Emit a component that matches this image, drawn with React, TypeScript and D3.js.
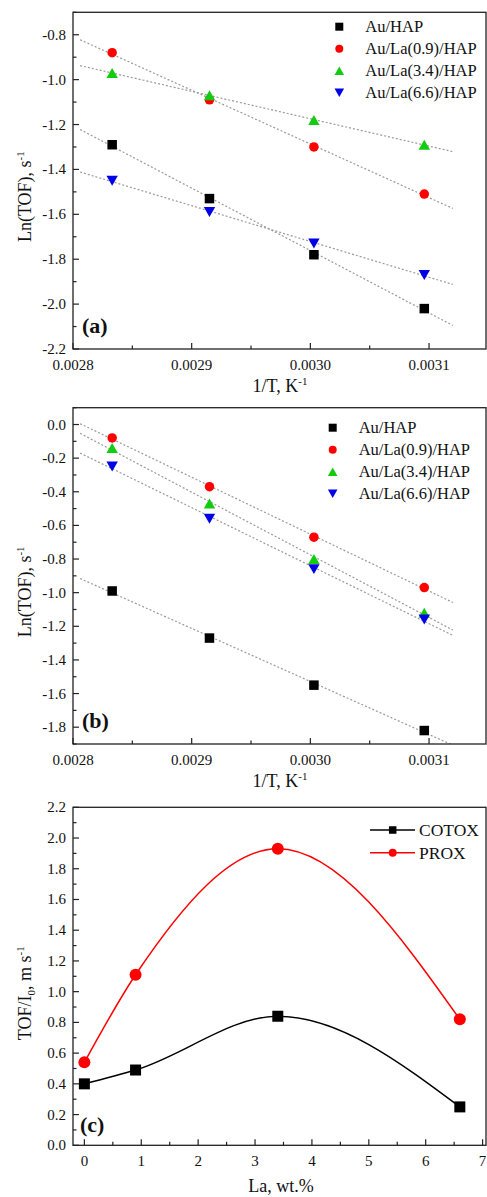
import React from 'react';
import * as d3 from 'd3';

// ---------- DATA ----------
const invT = [0.002833, 0.002915, 0.003003, 0.003096];
const seriesNames = ['Au/HAP', 'Au/La(0.9)/HAP', 'Au/La(3.4)/HAP', 'Au/La(6.6)/HAP'];
const seriesColors = ['#000000', '#ff0000', '#11cc11', '#0000e6'];
const seriesShapes = ['square', 'circle', 'triUp', 'triDown'];
const lnTofA = [
  [-1.29, -1.53, -1.78, -2.02],
  [-0.88, -1.09, -1.3, -1.51],
  [-0.97, -1.07, -1.18, -1.29],
  [-1.45, -1.59, -1.73, -1.87],
];
const lnTofB = [
  [-0.99, -1.27, -1.55, -1.82],
  [-0.08, -0.37, -0.67, -0.97],
  [-0.14, -0.47, -0.8, -1.12],
  [-0.25, -0.56, -0.86, -1.16],
];
const xTicksT = [0.0028, 0.0029, 0.003, 0.0031];
const xTickLabelsT = ['0.0028', '0.0029', '0.0030', '0.0031'];
const xMinorT = [0.00285, 0.00295, 0.00305];
const yTicksA = [-2.2, -2.0, -1.8, -1.6, -1.4, -1.2, -1.0, -0.8];
const yTicksB = [-1.8, -1.6, -1.4, -1.2, -1.0, -0.8, -0.6, -0.4, -0.2, 0.0];
const laContent = [0, 0.9, 3.4, 6.6];
const cotox = [0.4, 0.49, 0.84, 0.25];
const prox = [0.54, 1.11, 1.93, 0.82];
const cNames = ['COTOX', 'PROX'];
const cColors = ['#000000', '#ff0000'];
const xTicksC = [0, 1, 2, 3, 4, 5, 6, 7];
const xMinorC = [0.5, 1.5, 2.5, 3.5, 4.5, 5.5, 6.5];
const yTicksC = [0, 0.2, 0.4, 0.6, 0.8, 1.0, 1.2, 1.4, 1.6, 1.8, 2.0, 2.2];

const FONT = '"Liberation Serif", "Times New Roman", serif';
const AXIS = '#222';
const L = 73;
const R = 486;

function Marker({ shape, x, y, s, color }: any) {
  if (shape === 'square') return <rect x={x - s / 2} y={y - s / 2} width={s} height={s} fill={color} />;
  if (shape === 'circle') return <circle cx={x} cy={y} r={s / 2} fill={color} />;
  const a = s * 1.2;
  const h = s * 1.05;
  if (shape === 'triUp')
    return <polygon points={`${x},${y - h / 2} ${x - a / 2},${y + h / 2} ${x + a / 2},${y + h / 2}`} fill={color} />;
  return <polygon points={`${x},${y + h / 2} ${x - a / 2},${y - h / 2} ${x + a / 2},${y - h / 2}`} fill={color} />;
}

function Frame({ x, y, top, bottom, xTicks, xLabels, xMinor, yTicks, yLabels, yMinor }: any) {
  return (
    <g>
      <rect x={L} y={top} width={R - L} height={bottom - top} fill="none" stroke={AXIS} strokeWidth={1.3} />
      {xTicks.map((t: number, i: number) => (
        <g key={'xt' + i}>
          <line x1={x(t)} x2={x(t)} y1={bottom} y2={bottom - 6} stroke={AXIS} strokeWidth={1.2} />
          <text x={x(t)} y={bottom + 21} textAnchor="middle" fontSize={15} fontFamily={FONT} fill="#111">
            {xLabels[i]}
          </text>
        </g>
      ))}
      {xMinor.map((t: number, i: number) => (
        <line key={'xm' + i} x1={x(t)} x2={x(t)} y1={bottom} y2={bottom - 3.5} stroke={AXIS} strokeWidth={1.2} />
      ))}
      {yTicks.map((t: number, i: number) => (
        <g key={'yt' + i}>
          <line x1={L} x2={L + 6} y1={y(t)} y2={y(t)} stroke={AXIS} strokeWidth={1.2} />
          <text x={66} y={y(t) + 5} textAnchor="end" fontSize={15} fontFamily={FONT} fill="#111">
            {yLabels[i]}
          </text>
        </g>
      ))}
      {yMinor.map((t: number, i: number) => (
        <line key={'ym' + i} x1={L} x2={L + 3.5} y1={y(t)} y2={y(t)} stroke={AXIS} strokeWidth={1.2} />
      ))}
    </g>
  );
}

function regress(xs: number[], ys: number[]) {
  const mx = d3.mean(xs) as number;
  const my = d3.mean(ys) as number;
  let num = 0, den = 0;
  xs.forEach((v, i) => { num += (v - mx) * (ys[i] - my); den += (v - mx) * (v - mx); });
  const b = num / den;
  return (v: number) => my + b * (v - mx);
}

function ArrheniusPanel({ id, data, top, bottom, yDomain, yTicks, label, legendX, legendY }: any) {
  const x = d3.scaleLinear().domain([0.0028, 0.003148]).range([L, R]);
  const y = d3.scaleLinear().domain(yDomain).range([bottom, top]);
  const yMinor: number[] = [];
  for (let v = yDomain[0]; v <= yDomain[1] + 1e-9; v += 0.1) {
    const r = Math.round(v * 10) / 10;
    if (!yTicks.some((t: number) => Math.abs(t - r) < 1e-6)) yMinor.push(r);
  }
  const yLabels = yTicks.map((t: number) => (Math.abs(t) < 1e-9 ? '0.0' : d3.format('.1f')(t).replace('−', '-')));
  const fitLine = d3.line<number[]>().x((d) => x(d[0])).y((d) => y(d[1]));
  return (
    <g>
      <defs>
        <clipPath id={'clip' + id}>
          <rect x={L} y={top} width={R - L} height={bottom - top} />
        </clipPath>
      </defs>
      <g clipPath={`url(#clip${id})`}>
        {data.map((ys: number[], si: number) => {
          const f = regress(invT, ys);
          const pts = [[0.002806, f(0.002806)], [0.00312, f(0.00312)]];
          return (
            <path key={'fit' + si} d={fitLine(pts) as string}
              fill="none" stroke="#9a9a9a" strokeWidth={1.2} strokeDasharray="2,2" />
          );
        })}
      </g>
      <Frame x={x} y={y} top={top} bottom={bottom} xTicks={xTicksT} xLabels={xTickLabelsT} xMinor={xMinorT}
        yTicks={yTicks} yLabels={yLabels} yMinor={yMinor} />
      {data.map((ys: number[], si: number) =>
        ys.map((v, i) => (
          <Marker key={si + '-' + i} shape={seriesShapes[si]} x={x(invT[i])} y={y(v)} s={9.5} color={seriesColors[si]} />
        ))
      )}
      {seriesNames.map((n, si) => (
        <g key={'lg' + si}>
          <Marker shape={seriesShapes[si]} x={legendX} y={legendY + si * 22} s={8} color={seriesColors[si]} />
          <text x={legendX + 26} y={legendY + si * 22 + 5.5} fontSize={16.5} fontFamily={FONT} fill="#111">{n}</text>
        </g>
      ))}
      <text x={82} y={bottom - 16} fontSize={22} fontWeight="bold" fontFamily={FONT} fill="#111">{label}</text>
      <text transform={`translate(31,${(top + bottom) / 2 + 16}) rotate(-90)`} textAnchor="middle" fontSize={18}
        fontFamily={FONT} fill="#111">
        Ln(TOF), s<tspan dy={-7} fontSize={11}>-1</tspan>
      </text>
      <text x={280} y={bottom + 43} textAnchor="middle" fontSize={18} fontFamily={FONT} fill="#111">
        1/T, K<tspan dy={-7} fontSize={11}>-1</tspan>
      </text>
    </g>
  );
}

function PanelC() {
  const top = 807.3, bottom = 1145.3;
  const x = d3.scaleLinear().domain([-0.2, 7.06]).range([L, R]);
  const y = d3.scaleLinear().domain([0, 2.2]).range([bottom, top]);
  const yMinor: number[] = [];
  for (let v = 0.1; v < 2.2; v += 0.2) yMinor.push(Math.round(v * 10) / 10);
  const gen = d3.line<number>().x((_, i) => x(laContent[i])).y((d) => y(d)).curve(d3.curveMonotoneX);
  const series = [cotox, prox];
  const shapes = ['square', 'circle'];
  return (
    <g>
      <Frame x={x} y={y} top={top} bottom={bottom} xTicks={xTicksC} xLabels={xTicksC.map(String)} xMinor={xMinorC}
        yTicks={yTicksC} yLabels={yTicksC.map((t) => d3.format('.1f')(t))} yMinor={yMinor} />
      {series.map((s, si) => (
        <path key={'c' + si} d={gen(s) as string} fill="none" stroke={cColors[si]} strokeWidth={1.5} />
      ))}
      {series.map((s, si) =>
        s.map((v, i) => (
          <Marker key={si + '-' + i} shape={shapes[si]} x={x(laContent[i])} y={y(v)} s={si === 0 ? 11 : 12} color={cColors[si]} />
        ))
      )}
      {cNames.map((n, si) => (
        <g key={'cl' + si}>
          <line x1={370} x2={415} y1={830 + si * 22.7} y2={830 + si * 22.7} stroke={cColors[si]} strokeWidth={1.5} />
          <Marker shape={shapes[si]} x={392.7} y={830 + si * 22.7} s={si === 0 ? 7.5 : 8} color={cColors[si]} />
          <text x={419} y={830 + si * 22.7 + 6} fontSize={17.5} fontFamily={FONT} fill="#111">{n}</text>
        </g>
      ))}
      <text x={80} y={1131.7} fontSize={22} fontWeight="bold" fontFamily={FONT} fill="#111">(c)</text>
      <text transform={`translate(31,${(top + bottom) / 2 + 17}) rotate(-90)`} textAnchor="middle" fontSize={18}
        fontFamily={FONT} fill="#111">
        TOF/I<tspan dy={4} fontSize={11}>0</tspan><tspan dy={-4}>, m s</tspan><tspan dy={-7} fontSize={11}>-1</tspan>
      </text>
      <text x={281} y={1192} textAnchor="middle" fontSize={18} fontFamily={FONT} fill="#111">La, wt.%</text>
    </g>
  );
}

export default function App() {
  return (
    <svg width={487} height={1197} style={{ position: 'absolute', left: 0, top: 0, background: '#fff' }}>
      <rect width={487} height={1197} fill="#fff" />
      <ArrheniusPanel id="a" data={lnTofA} top={12.3} bottom={349} yDomain={[-2.2, -0.7]} yTicks={yTicksA}
        label="(a)" legendX={339.3} legendY={26.7} />
      <ArrheniusPanel id="b" data={lnTofB} top={407.7} bottom={744} yDomain={[-1.9, 0.1]} yTicks={yTicksB}
        label="(b)" legendX={332.7} legendY={427.7} />
      <PanelC />
    </svg>
  );
}
